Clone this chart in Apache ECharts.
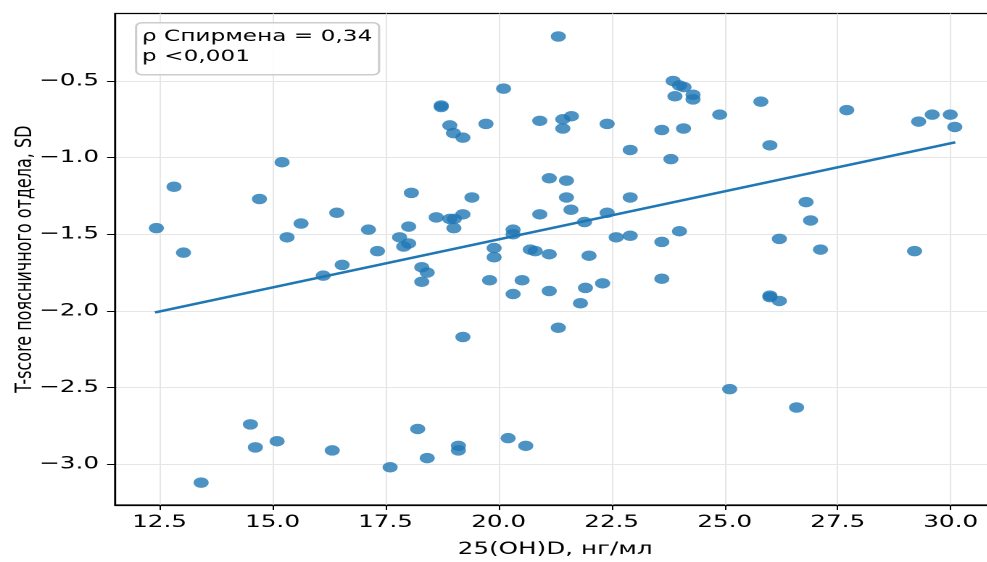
<!DOCTYPE html>
<html>
<head>
<meta charset="utf-8">
<script src="https://cdn.jsdelivr.net/npm/echarts@6/dist/echarts.min.js"></script>
<style>
html,body{margin:0;padding:0;background:#fff;overflow:hidden;width:987px;height:562px;}
#chart{position:absolute;left:0;top:0;height:562px;transform-origin:0 0;}
</style>
</head>
<body>
<div id="chart"></div>
<script>
// --- data ---
const vitD = [12.43,12.82,13.03,13.42,14.51,14.62,14.71,15.10,15.21,15.32,15.63,16.12,16.32,16.42,16.54,17.12,17.32,17.60,17.81,17.90,18.01,18.01,18.07,18.21,18.30,18.42,18.30,18.42,18.62,18.73,18.73,18.92,19.00,19.21,18.92,19.02,19.01,19.21,19.41,19.11,19.11,19.21,19.72,19.80,19.90,19.90,20.11,20.21,20.32,20.32,20.32,20.52,20.60,20.70,20.81,20.91,20.91,21.12,21.12,21.12,21.32,21.32,21.42,21.42,21.50,21.50,21.60,21.61,21.81,21.90,21.92,22.00,22.30,22.40,22.40,22.60,22.91,22.91,22.91,23.61,23.61,23.61,23.81,23.86,24.00,24.10,23.90,24.30,24.30,24.09,24.00,24.89,25.11,25.80,26.00,26.00,26.00,26.21,26.21,26.59,26.80,26.90,27.12,27.70,29.20,29.29,29.59,29.99,30.09];
const tScore = [-1.46,-1.19,-1.62,-3.12,-2.74,-2.89,-1.27,-2.85,-1.03,-1.52,-1.43,-1.77,-2.91,-1.36,-1.70,-1.47,-1.61,-3.02,-1.52,-1.58,-1.56,-1.45,-1.23,-2.77,-1.715,-1.75,-1.81,-2.96,-1.39,-0.66,-0.67,-0.79,-0.84,-0.87,-1.40,-1.40,-1.46,-1.37,-1.26,-2.88,-2.91,-2.17,-0.78,-1.80,-1.59,-1.65,-0.55,-2.83,-1.47,-1.50,-1.89,-1.80,-2.88,-1.60,-1.61,-0.76,-1.37,-1.135,-1.63,-1.87,-0.21,-2.11,-0.75,-0.81,-1.15,-1.26,-1.34,-0.73,-1.95,-1.42,-1.85,-1.64,-1.82,-0.78,-1.36,-1.52,-0.95,-1.26,-1.51,-0.82,-1.55,-1.79,-1.01,-0.50,-0.53,-0.54,-0.60,-0.59,-0.62,-0.81,-1.48,-0.72,-2.51,-0.635,-0.92,-1.90,-1.91,-1.53,-1.935,-2.63,-1.29,-1.41,-1.60,-0.69,-1.61,-0.765,-0.72,-0.72,-0.80];
const trendX = [12.4, 30.1];
const trendY = [-2.01, -0.90];
const xTicks = [12.5,15.0,17.5,20.0,22.5,25.0,27.5,30.0];
const yTicks = [-3.0,-2.5,-2.0,-1.5,-1.0,-0.5];
const statLines = ['ρ Спирмена = 0,34','p <0,001'];
const xTitle = '25(OH)D, нг/мл';
const yTitle = 'T-score поясничного отдела, SD';

// --- layout (horizontal stretch like reference) ---
const S = 1.45;
const W = 987 / S;
const el = document.getElementById('chart');
el.style.width = W + 'px';
el.style.transform = 'scaleX(' + S + ')';

const FONT = 'DejaVu Sans';
const chart = echarts.init(el, null, {devicePixelRatio: 2});
const scatterData = vitD.map((x, i) => [x, tScore[i]]);
const lineData = trendX.map((x, i) => [x, trendY[i]]);

chart.setOption({
  animation: false,
  backgroundColor: '#fff',
  grid: {
    left: 115 / S, right: (987 - 994.8) / S, top: 13.5, bottom: 57,
    containLabel: false, outerBoundsMode: 'none',
    show: true, borderColor: '#000', borderWidth: 1.2, backgroundColor: 'transparent'
  },
  xAxis: {
    type: 'value', min: 11.515, max: 30.985,
    name: xTitle, nameLocation: 'middle', nameGap: 36, nameMoveOverlap: false,
    nameTextStyle: {fontFamily: FONT, fontSize: 17, color: '#000'},
    axisLine: {show: true, lineStyle: {color: '#000', width: 1.2}},
    axisTick: {show: true, length: 5, lineStyle: {color: '#000', width: 1}, customValues: xTicks},
    axisLabel: {fontFamily: FONT, fontSize: 17, color: '#000', margin: 9,
      customValues: xTicks, formatter: v => v.toFixed(1)},
    splitLine: {show: true, lineStyle: {color: '#e6e6e6', width: 1}}
  },
  yAxis: {
    type: 'value', min: -3.266, max: -0.06,
    name: yTitle, nameLocation: 'middle', nameGap: 54, nameMoveOverlap: false,
    nameTextStyle: {fontFamily: FONT, fontSize: 16, color: '#000'},
    axisLine: {show: true, lineStyle: {color: '#000', width: 1.2}},
    axisTick: {show: true, length: 5.5, lineStyle: {color: '#000', width: 1}, customValues: yTicks},
    axisLabel: {fontFamily: FONT, fontSize: 17, color: '#000', margin: 11,
      customValues: yTicks, formatter: v => (v < 0 ? '\u2212' : '') + Math.abs(v).toFixed(1)},
    splitLine: {show: true, lineStyle: {color: '#e6e6e6', width: 1}}
  },
  series: [
    {
      type: 'scatter', data: scatterData, symbol: 'circle', symbolSize: 10.5,
      itemStyle: {color: '#1f77b4', opacity: 0.8}, z: 2
    },
    {
      type: 'line', data: lineData, symbol: 'none', silent: true,
      lineStyle: {color: '#1f77b4', width: 2.5}, z: 3
    }
  ],
  graphic: [
    {
      type: 'rect', left: 135 / S, top: 22, z: 10,
      shape: {width: 243 / S, height: 52, r: 4},
      style: {fill: 'rgba(255,255,255,0.85)', stroke: '#cccccc', lineWidth: 1.5}
    },
    {
      type: 'text', left: 142 / S, top: 27, z: 11,
      style: {text: statLines.join('\n'), font: '16px "' + FONT + '"', fill: '#000', lineHeight: 20}
    }
  ]
});
</script>
</body>
</html>
